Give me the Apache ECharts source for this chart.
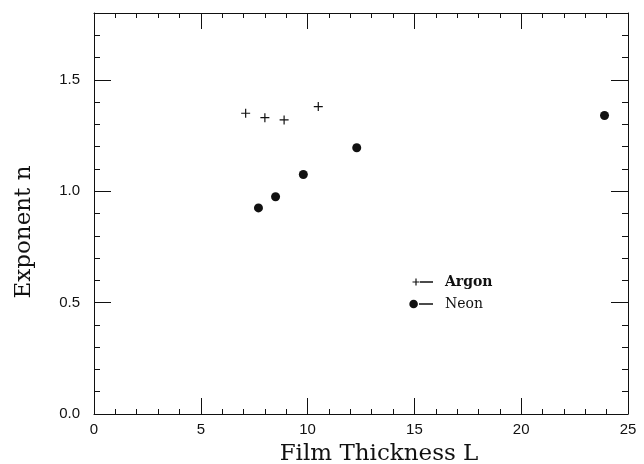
<!DOCTYPE html>
<html>
<head>
<meta charset="utf-8">
<script src="https://cdn.jsdelivr.net/npm/echarts@6/dist/echarts.min.js"></script>
<style>
  html, body { margin: 0; padding: 0; background: #fff; }
  #chart { width: 644px; height: 464px; }
</style>
</head>
<body>
<div id="chart"></div>
<script>
// film thickness L and exponent n
var argonL = [7.1, 8.0, 8.9, 10.5];
var argonN = [1.35, 1.33, 1.32, 1.38];
var neonL = [7.7, 8.5, 9.8, 12.3, 23.9];
var neonN = [0.925, 0.975, 1.075, 1.195, 1.34];

var ink = "#111";
var plusPath = "path://M3.9 0h1.2v3.9h3.9v1.2h-3.9v3.9h-1.2v-3.9h-3.9v-1.2h3.9Z";
// legend marks: symbol followed by a short dash
var argonIcon = "path://M0 0M32 10M7.4 1.5h1.2v2.9h2.9v1.2h-2.9v2.9h-1.2v-2.9h-2.9v-1.2h2.9ZM12 4.3h13v1.4h-13Z";
var neonIcon = "path://M0 0M32 10M1.3 5a4.3 4.3 0 1 0 8.6 0a4.3 4.3 0 1 0 -8.6 0ZM11 4.3h14v1.4h-14Z";

function pairs(xs, ys) {
  var out = [];
  for (var i = 0; i < xs.length; i++) out.push([xs[i], ys[i]]);
  return out;
}

var tickFont = { fontFamily: "Liberation Sans", fontSize: 15, color: ink };
var titleFont = { fontFamily: "DejaVu Serif", fontSize: 23, color: ink };

function xAx(pos) {
  return {
    type: "value", position: pos, min: 0, max: 25, interval: 5,
    axisLine: { show: true, onZero: false, lineStyle: { color: ink, width: 1 } },
    axisTick: { show: true, inside: true, length: 16, lineStyle: { color: ink } },
    minorTick: { show: true, splitNumber: 5, length: 5, lineStyle: { color: ink } },
    axisLabel: pos === "bottom" ? Object.assign({ margin: 8 }, tickFont) : { show: false },
    splitLine: { show: false },
  };
}

function yAx(pos, major) {
  return {
    type: "value", position: pos, min: 0, max: 1.8, interval: major ? 0.5 : 0.1,
    axisLine: { show: major, onZero: false, lineStyle: { color: ink, width: 1 } },
    axisTick: { show: true, inside: true, length: major ? 17 : 6, lineStyle: { color: ink } },
    axisLabel: pos === "left" && major
      ? Object.assign({ margin: 14, showMaxLabel: false, formatter: function (v) { return v.toFixed(1); } }, tickFont)
      : { show: false },
    splitLine: { show: false },
  };
}

var chart = echarts.init(document.getElementById("chart"));

var xBottom = xAx("bottom");
xBottom.name = "Film Thickness L";
xBottom.nameLocation = "middle";
xBottom.nameGap = 29;
xBottom.nameTextStyle = Object.assign({ padding: [0, 0, 0, 36] }, titleFont);

var yLeft = yAx("left", true);
yLeft.name = "Exponent n";
yLeft.nameLocation = "middle";
yLeft.nameGap = 58;
yLeft.nameTextStyle = Object.assign({ padding: [0, 37, 0, 0] }, titleFont);

chart.setOption({
  animation: false,
  backgroundColor: "#fff",
  grid: { left: 94, right: 16, top: 13, bottom: 50, containLabel: false, outerBoundsMode: "none" },
  xAxis: [xBottom, xAx("top")],
  yAxis: [yLeft, yAx("left", false), yAx("right", true), yAx("right", false)],
  legend: {
    orient: "vertical",
    left: 408,
    top: 275,
    padding: 0,
    itemWidth: 32,
    itemHeight: 10,
    itemGap: 8,
    itemStyle: { borderWidth: 0, opacity: 1 },
    textStyle: { fontFamily: "DejaVu Serif", fontSize: 14, color: ink },
    data: [
      { name: "Argon", icon: argonIcon, textStyle: { fontWeight: "bold" } },
      { name: "Neon", icon: neonIcon },
    ],
  },
  series: [
    {
      name: "Argon",
      type: "scatter",
      symbol: plusPath,
      symbolSize: 9,
      itemStyle: { color: ink, opacity: 1 },
      data: pairs(argonL, argonN),
    },
    {
      name: "Neon",
      type: "scatter",
      symbol: "circle",
      symbolSize: 9,
      itemStyle: { color: ink, opacity: 1 },
      data: pairs(neonL, neonN),
    },
  ],
});
</script>
</body>
</html>
